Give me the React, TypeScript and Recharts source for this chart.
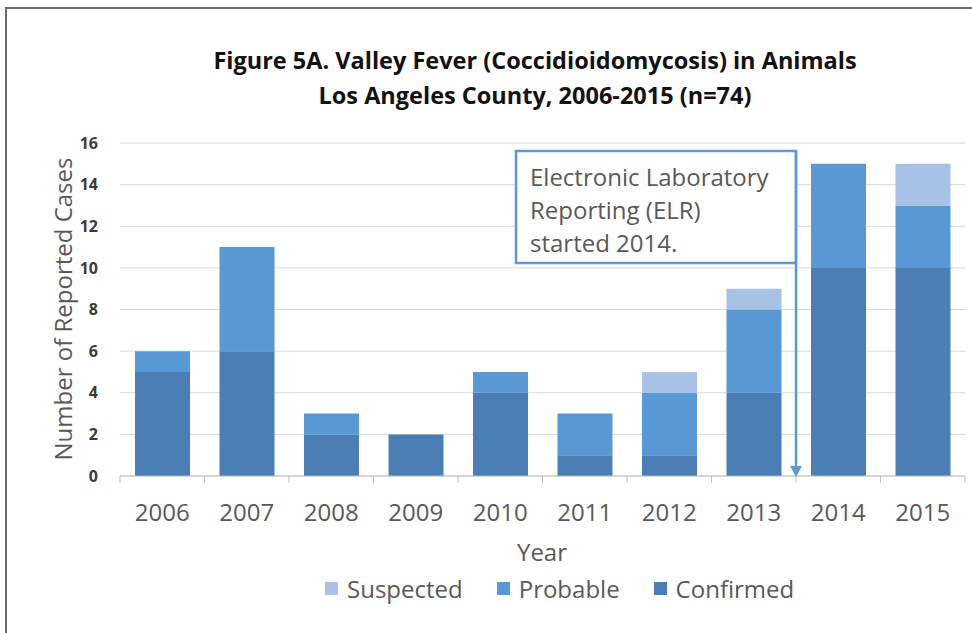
import React from 'react';
import { BarChart, Bar, XAxis, YAxis, CartesianGrid } from 'recharts';

const years = ['2006', '2007', '2008', '2009', '2010', '2011', '2012', '2013', '2014', '2015'];
const confirmed = [5, 6, 2, 2, 4, 1, 1, 4, 10, 10];
const probable = [1, 5, 1, 0, 1, 2, 3, 4, 5, 3];
const suspected = [0, 0, 0, 0, 0, 0, 1, 1, 0, 2];
const yTicks = [0, 2, 4, 6, 8, 10, 12, 14, 16];

const series = [
  { key: 'suspected', name: 'Suspected', color: '#A7C2E4' },
  { key: 'probable', name: 'Probable', color: '#5898D4' },
  { key: 'confirmed', name: 'Confirmed', color: '#4A7EB5' },
];

const data = years.map((year, i) => ({
  year,
  confirmed: confirmed[i],
  probable: probable[i],
  suspected: suspected[i],
}));

const FONT = '"Open Sans", "DejaVu Sans", sans-serif';
const W = 972;
const H = 633;
const PLOT_LEFT = 120;
const PLOT_RIGHT = 965;
const HALF_BAND = (PLOT_RIGHT - PLOT_LEFT) / years.length / 2;

const YearTick = (props: any) => {
  const { x, y, payload, index } = props;
  return (
    <g>
      <line x1={x - HALF_BAND} y1={y - 8} x2={x - HALF_BAND} y2={y - 1} stroke="#bfbfbf" />
      {index === years.length - 1 && (
        <line x1={x + HALF_BAND} y1={y - 8} x2={x + HALF_BAND} y2={y - 1} stroke="#bfbfbf" />
      )}
      <text x={x} y={y + 37} textAnchor="middle" fill="#595959" fontSize={24} fontFamily={FONT}>
        {payload.value}
      </text>
    </g>
  );
};

export default function App() {
  return (
    <div style={{ position: 'absolute', left: 0, top: 0, width: W, height: H, background: '#fff', overflow: 'hidden' }}>
      {/* frame */}
      <div style={{ position: 'absolute', left: 5, top: 7, width: W, height: H, borderTop: '2px solid #6b6b6b', borderLeft: '2px solid #6b6b6b' }} />

      <div style={{ position: 'absolute', left: 0, top: 43, width: 1070, textAlign: 'center', fontFamily: FONT, fontWeight: 700, fontSize: 23.5, lineHeight: '35px', color: '#111' }}>
        <div>Figure 5A. Valley Fever (Coccidioidomycosis) in Animals</div>
        <div>Los Angeles County, 2006-2015 (n=74)</div>
      </div>

      <div style={{ position: 'absolute', left: 0, top: 0 }}>
        <BarChart width={W} height={H} data={data} margin={{ top: 143, right: W - PLOT_RIGHT, left: 0, bottom: 107 }}>
          <CartesianGrid vertical={false} stroke="#d9d9d9" />
          <XAxis
            dataKey="year"
            height={50}
            tick={<YearTick />}
            tickLine={false}
            axisLine={{ stroke: '#bfbfbf' }}
            interval={0}
          />
          <YAxis
            width={PLOT_LEFT}
            domain={[0, 16]}
            ticks={yTicks}
            tickLine={false}
            axisLine={false}
            tickMargin={16}
            tick={{ fill: '#3a3a3a', fontSize: 16, fontWeight: 700, fontFamily: FONT }}
          />
          {[...series].reverse().map((s) => (
            <Bar key={s.key} dataKey={s.key} name={s.name} stackId="a" fill={s.color} barSize={55} isAnimationActive={false} />
          ))}
        </BarChart>
      </div>

      {/* y-axis title */}
      <div style={{ position: 'absolute', left: 62, top: 309, transform: 'translate(-50%, -50%) rotate(-90deg)', whiteSpace: 'nowrap', fontFamily: FONT, fontSize: 24, color: '#595959' }}>
        Number of Reported Cases
      </div>

      {/* x-axis title */}
      <div style={{ position: 'absolute', left: 542, top: 551, transform: 'translate(-50%, -50%)', fontFamily: FONT, fontSize: 24, color: '#595959' }}>
        Year
      </div>

      {/* legend */}
      <div style={{ position: 'absolute', left: 325, top: 572, display: 'flex', alignItems: 'center', fontFamily: FONT, fontSize: 24, color: '#595959' }}>
        {series.map((s) => (
          <div key={s.key} style={{ display: 'flex', alignItems: 'center', marginRight: 34 }}>
            <span style={{ display: 'inline-block', width: 13, height: 13, background: s.color, marginRight: 9 }} />
            <span>{s.name}</span>
          </div>
        ))}
      </div>

      {/* ELR annotation */}
      <svg style={{ position: 'absolute', left: 0, top: 0 }} width={W} height={H}>
        <rect x={516} y={151} width={280} height={112} fill="#fff" stroke="#5B9BD5" strokeWidth={2.5} />
        <line x1={796} y1={151} x2={796} y2={468} stroke="#5B9BD5" strokeWidth={2.5} />
        <path d="M790,466 L802,466 L796,477 Z" fill="#5B9BD5" />
        <g fontFamily={FONT} fontSize={24} fill="#595959">
          <text x={530} y={186}>Electronic Laboratory</text>
          <text x={530} y={219}>Reporting (ELR)</text>
          <text x={530} y={252}>started 2014.</text>
        </g>
      </svg>
    </div>
  );
}
